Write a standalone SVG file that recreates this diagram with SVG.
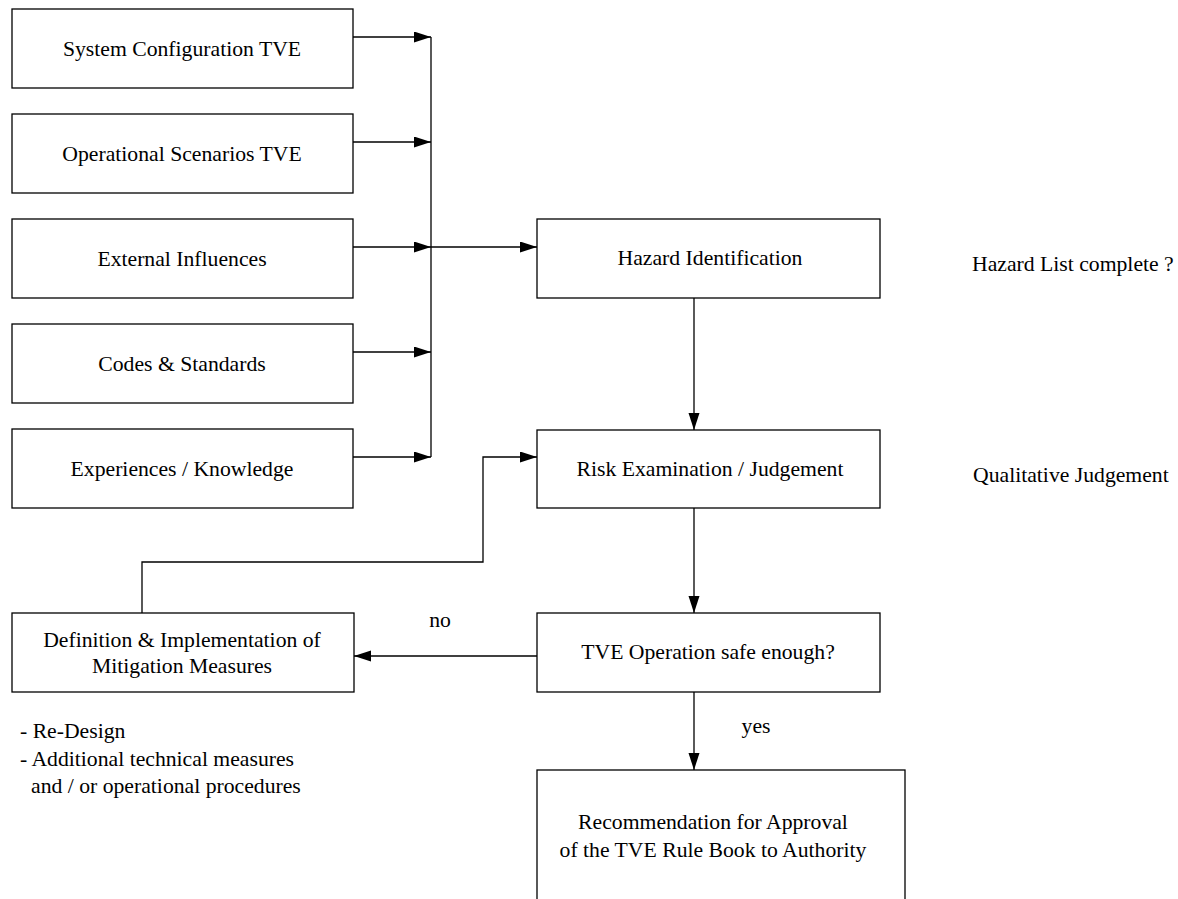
<svg xmlns="http://www.w3.org/2000/svg" width="1178" height="899" viewBox="0 0 1178 899">
<style>
.box{fill:#fff;stroke:#000;stroke-width:1.3}
.t{font-family:"Liberation Serif","Times New Roman",serif;font-size:21.7px;fill:#000}
.m{text-anchor:middle}
.c{fill:none;stroke:#000;stroke-width:1.3}
</style>
<defs>
<marker id="ah" markerUnits="userSpaceOnUse" markerWidth="18" markerHeight="12" refX="17" refY="5.5" orient="auto">
<path d="M0,0 L17,5.5 L0,11 z" fill="#000"/>
</marker>
</defs>
<rect width="1178" height="899" fill="#fff"/>
<g id="connectors">
<line class="c" x1="353" y1="37" x2="431" y2="37" marker-end="url(#ah)"/>
<line class="c" x1="353" y1="142" x2="431" y2="142" marker-end="url(#ah)"/>
<line class="c" x1="353" y1="247" x2="431" y2="247" marker-end="url(#ah)"/>
<line class="c" x1="353" y1="352" x2="431" y2="352" marker-end="url(#ah)"/>
<line class="c" x1="353" y1="457" x2="431" y2="457" marker-end="url(#ah)"/>
<line class="c" x1="431" y1="37" x2="431" y2="457"/>
<line class="c" x1="431" y1="247" x2="537" y2="247" marker-end="url(#ah)"/>
<line class="c" x1="694" y1="298" x2="694" y2="430" marker-end="url(#ah)"/>
<line class="c" x1="694" y1="508" x2="694" y2="613" marker-end="url(#ah)"/>
<line class="c" x1="537" y1="656" x2="354" y2="656" marker-end="url(#ah)"/>
<polyline class="c" points="142,613 142,562 483,562 483,457 537,457" marker-end="url(#ah)"/>
<line class="c" x1="694" y1="692" x2="694" y2="770" marker-end="url(#ah)"/>
<text class="t m" x="440" y="627">no</text>
<text class="t m" x="756" y="733">yes</text>
</g>
<g id="n-sysconf"><rect class="box" x="12" y="9" width="341" height="79"/><text class="t m" x="182" y="56">System Configuration TVE</text></g>
<g id="n-opscen"><rect class="box" x="12" y="114" width="341" height="79"/><text class="t m" x="182" y="161">Operational Scenarios TVE</text></g>
<g id="n-extinf"><rect class="box" x="12" y="219" width="341" height="79"/><text class="t m" x="182" y="266">External Influences</text></g>
<g id="n-codes"><rect class="box" x="12" y="324" width="341" height="79"/><text class="t m" x="182" y="371">Codes &amp; Standards</text></g>
<g id="n-exp"><rect class="box" x="12" y="429" width="341" height="79"/><text class="t m" x="182" y="476">Experiences / Knowledge</text></g>
<g id="n-hazard"><rect class="box" x="537" y="219" width="343" height="79"/><text class="t m" x="710" y="265">Hazard Identification</text></g>
<g id="n-risk"><rect class="box" x="537" y="430" width="343" height="78"/><text class="t m" x="710" y="476">Risk Examination / Judgement</text></g>
<g id="n-tve"><rect class="box" x="537" y="613" width="343" height="79"/><text class="t m" x="708" y="659">TVE Operation safe enough?</text></g>
<g id="n-mitig"><rect class="box" x="12" y="613" width="342" height="79"/><text class="t m" x="182" y="647">Definition &amp; Implementation of</text><text class="t m" x="182" y="673">Mitigation Measures</text></g>
<g id="n-rec"><rect class="box" x="537" y="770" width="368" height="150"/><text class="t m" x="713" y="829">Recommendation for Approval</text><text class="t m" x="713" y="857">of the TVE Rule Book to Authority</text></g>
<g id="notes">
<text class="t" x="972" y="271">Hazard List complete ?</text>
<text class="t" x="973" y="482">Qualitative Judgement</text>
<text class="t" x="20" y="738">- Re-Design</text>
<text class="t" x="20" y="766">- Additional technical measures</text>
<text class="t" x="31" y="793">and / or operational procedures</text>
</g>
</svg>
